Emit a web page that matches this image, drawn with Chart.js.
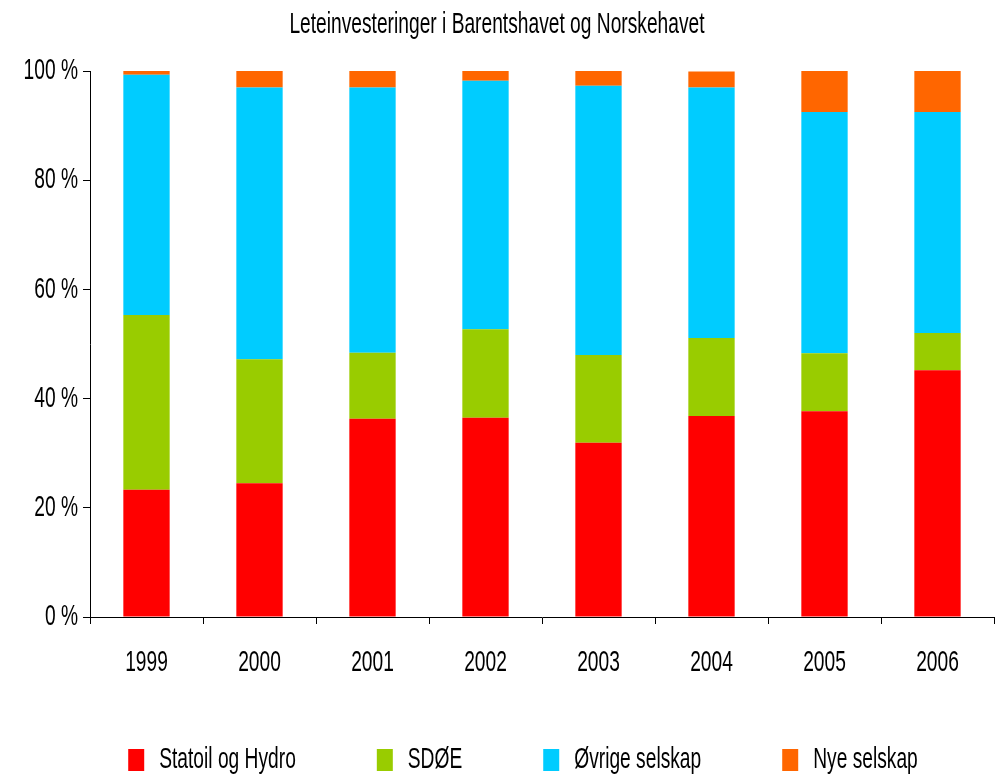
<!DOCTYPE html>
<html>
<head>
<meta charset="utf-8">
<script src="https://cdn.jsdelivr.net/npm/chart.js@4"></script>
<style>
  html, body { margin: 0; padding: 0; background: #fff; }
  #wrap { width: 996px; height: 777px; }
</style>
</head>
<body>
<div id="wrap"><canvas id="chart" width="996" height="777"></canvas></div>
<script>
// Leteinvesteringer, andel per år (%)
const years = ["1999", "2000", "2001", "2002", "2003", "2004", "2005", "2006"];
const statoilHydro = [23.3, 24.5, 36.3, 36.5, 31.9, 36.8, 37.7, 45.2];
const sdoe = [32.0, 22.7, 12.1, 16.2, 16.1, 14.3, 10.6, 6.8];
const ovrige = [44.0, 49.8, 48.6, 45.5, 49.3, 45.9, 44.2, 40.5];
const nye = [0.7, 3.0, 3.0, 1.8, 2.7, 2.9, 7.5, 7.5];
const yTicks = [0, 20, 40, 60, 80, 100];

const FONT = "'Liberation Sans', Arial, sans-serif";

// the original uses a very narrow font, so squeeze all canvas text horizontally
const SQUEEZE = 0.64;
const proto = CanvasRenderingContext2D.prototype;
const origFillText = proto.fillText;
const origMeasureText = proto.measureText;
proto.fillText = function (text, x, y, maxWidth) {
  this.save();
  this.translate(x, y);
  this.scale(SQUEEZE, 1);
  if (maxWidth !== undefined) {
    origFillText.call(this, text, 0, 0, maxWidth / SQUEEZE);
  } else {
    origFillText.call(this, text, 0, 0);
  }
  this.restore();
};
proto.measureText = function (text) {
  const m = origMeasureText.call(this, text);
  return {
    width: m.width * SQUEEZE,
    actualBoundingBoxAscent: m.actualBoundingBoxAscent,
    actualBoundingBoxDescent: m.actualBoundingBoxDescent,
    actualBoundingBoxLeft: m.actualBoundingBoxLeft * SQUEEZE,
    actualBoundingBoxRight: m.actualBoundingBoxRight * SQUEEZE,
  };
};

// after layout: move legend right/down, let x labels draw below the axis box
const layoutNudge = {
  id: "layoutNudge",
  afterLayout: (chart) => {
    const lg = chart.legend;
    lg.left += 26;
    lg.right += 26;
    lg.top += 8;
    lg.bottom += 8;
    chart.scales.x.bottom += 40;
  },
};

const ctx = document.getElementById("chart").getContext("2d");
new Chart(ctx, {
  type: "bar",
  data: {
    labels: years,
    datasets: [
      { label: "Statoil og Hydro", data: statoilHydro, backgroundColor: "#ff0000" },
      { label: "SDØE", data: sdoe, backgroundColor: "#99cc00" },
      { label: "Øvrige selskap", data: ovrige, backgroundColor: "#00ccff" },
      { label: "Nye selskap", data: nye, backgroundColor: "#ff6600" },
    ],
  },
  options: {
    responsive: false,
    animation: false,
    barPercentage: 0.41,
    categoryPercentage: 1,
    layout: { padding: { left: 0, right: 2, top: 0, bottom: 0 } },
    scales: {
      x: {
        stacked: true,
        afterFit: (axis) => {
          axis.height = 39;
        },
        grid: {
          display: true,
          drawOnChartArea: false,
          drawTicks: true,
          tickLength: 7,
          color: "#000",
          offset: true,
        },
        border: { display: true, color: "#000", width: 1 },
        ticks: {
          color: "#000",
          font: { family: FONT, size: 30 },
          padding: 21,
          maxRotation: 0,
        },
      },
      y: {
        stacked: true,
        min: 0,
        max: 100,
        afterBuildTicks: (axis) => {
          axis.ticks = yTicks.map((v) => ({ value: v }));
        },
        afterFit: (axis) => {
          axis.width = 90;
        },
        grid: {
          display: true,
          drawOnChartArea: false,
          drawTicks: true,
          tickLength: 7,
          color: "#000",
        },
        border: { display: true, color: "#000", width: 1 },
        ticks: {
          color: "#000",
          font: { family: FONT, size: 30 },
          padding: 5,
          callback: (value) => value + " %",
        },
      },
    },
    plugins: {
      title: {
        display: true,
        text: "Leteinvesteringer i Barentshavet og Norskehavet",
        color: "#000",
        font: { family: FONT, size: 30, weight: "normal" },
        padding: { top: 7, bottom: 28 },
      },
      legend: {
        position: "bottom",
        labels: {
          color: "#000",
          font: { family: FONT, size: 30 },
          boxWidth: 16,
          boxHeight: 22,
          padding: 81,
        },
      },
      tooltip: { enabled: false },
    },
  },
  plugins: [layoutNudge],
});
</script>
</body>
</html>
